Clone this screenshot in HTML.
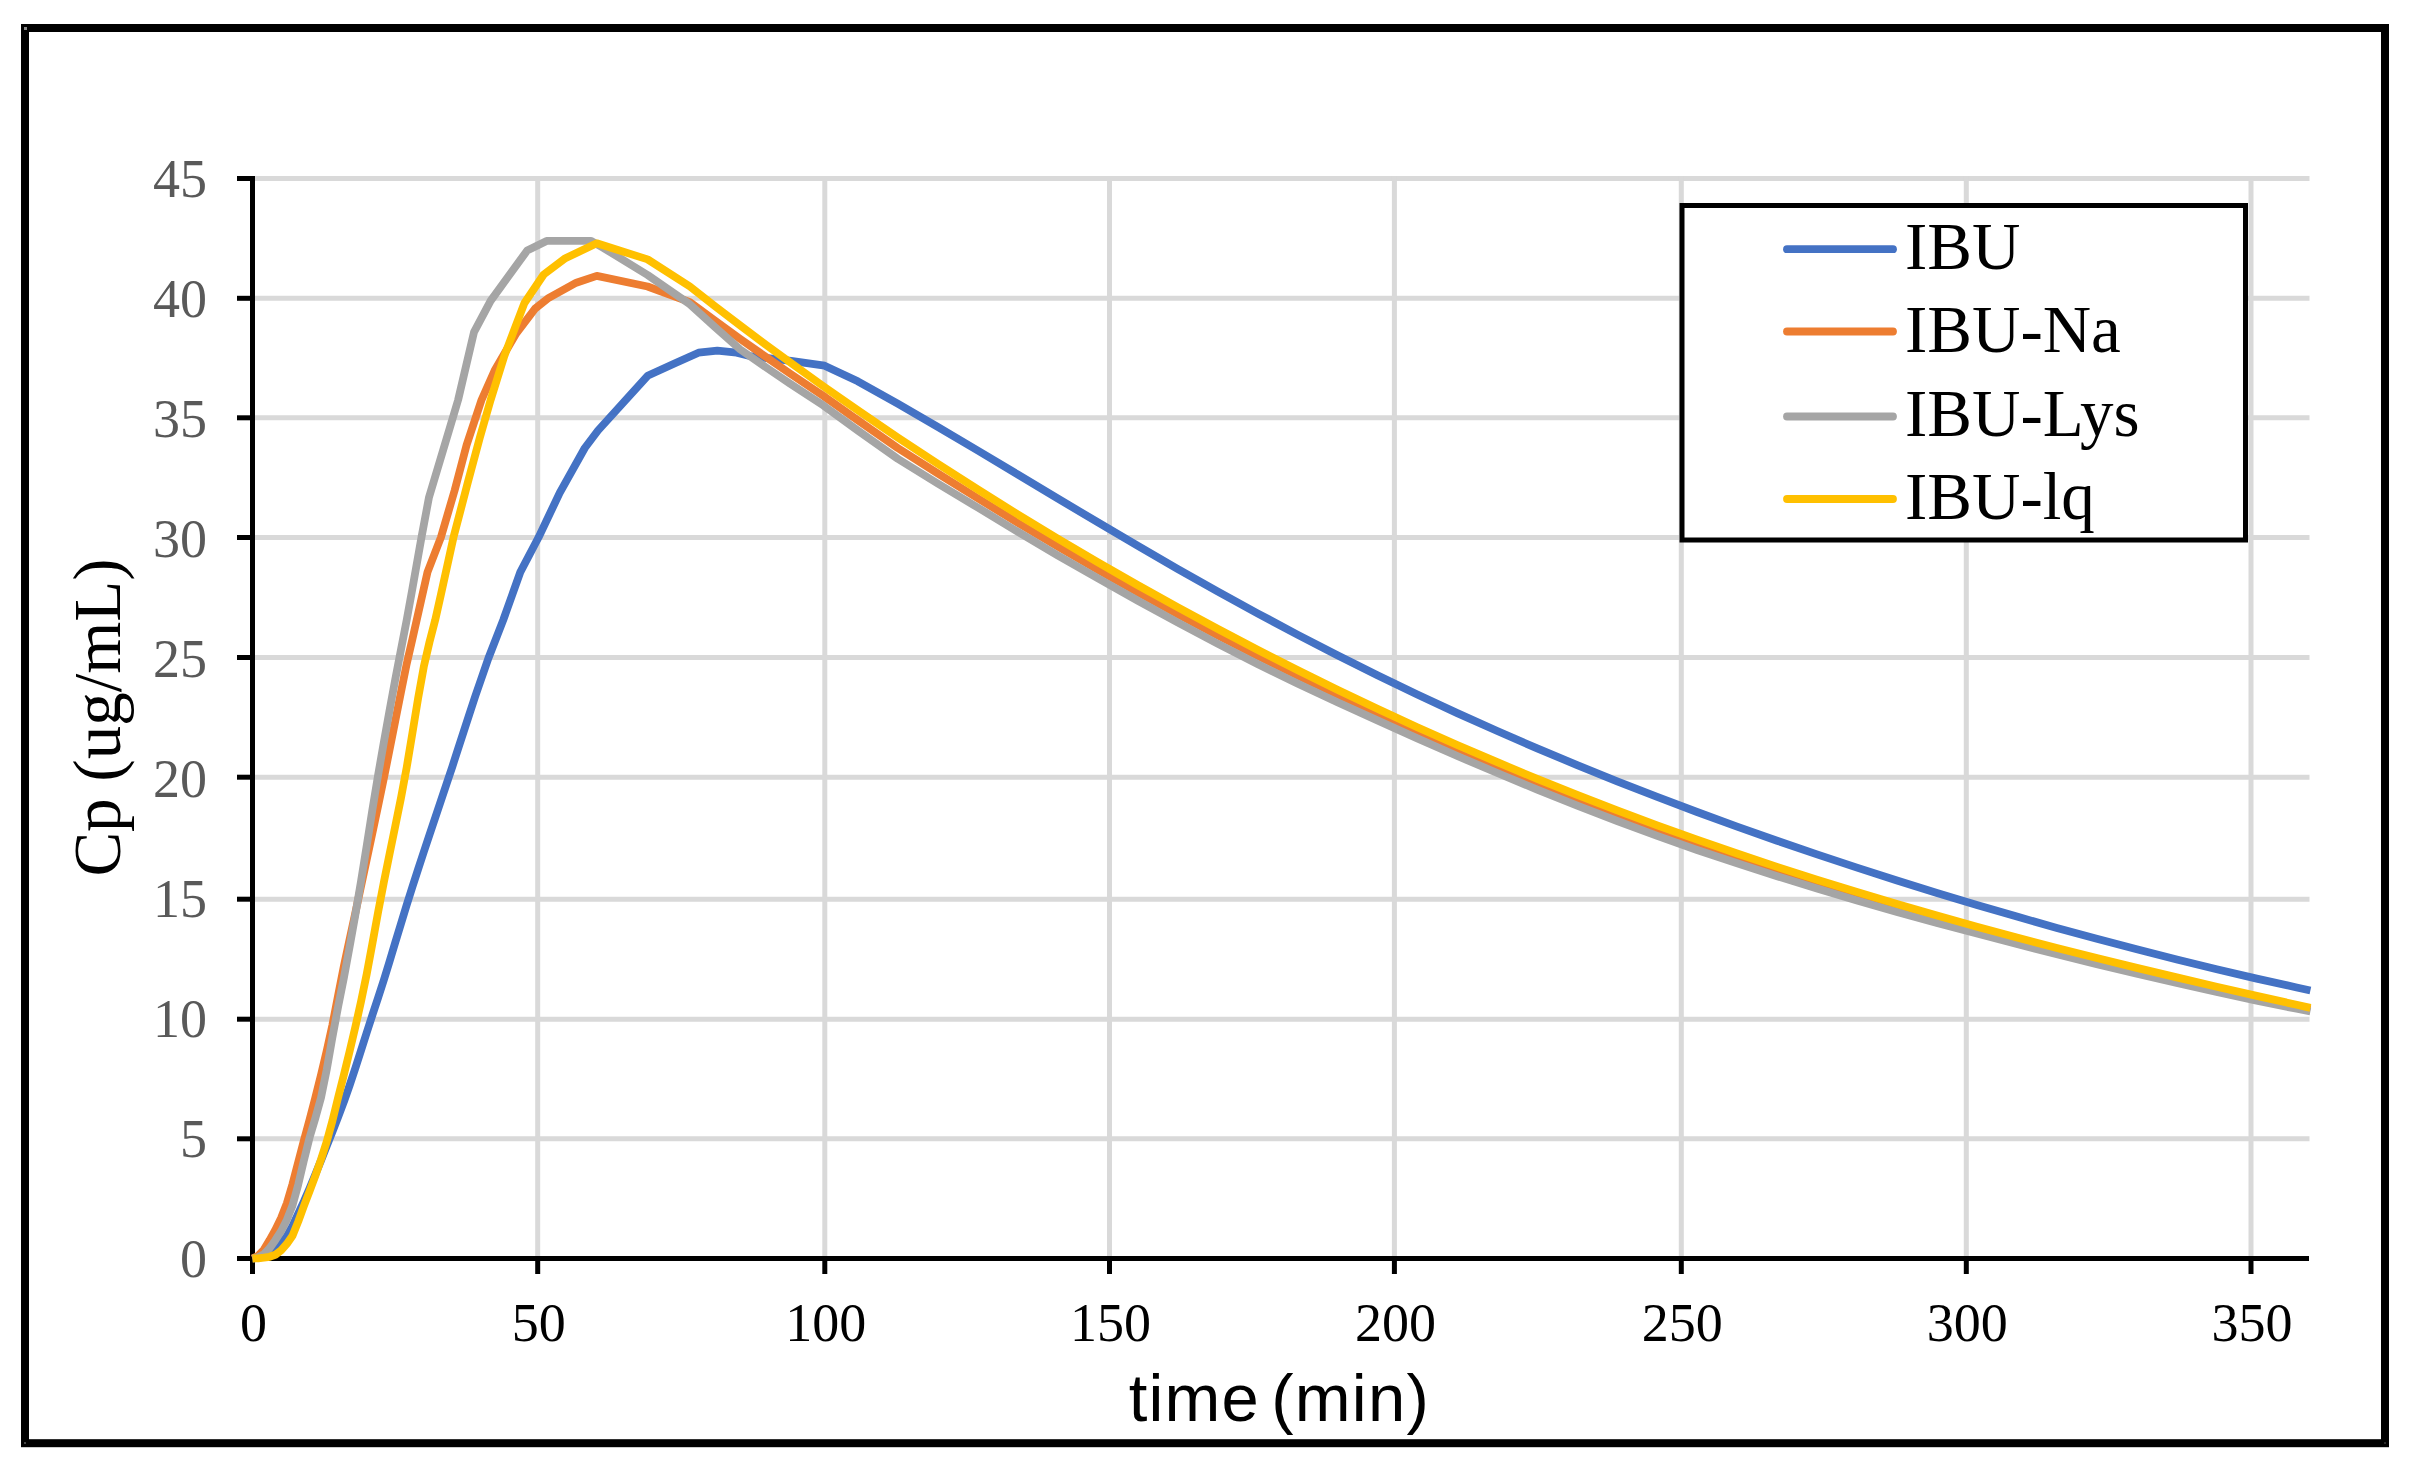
<!DOCTYPE html>
<html><head><meta charset="utf-8"><title>Cp vs time</title>
<style>html,body{margin:0;padding:0;background:#fff}svg{display:block}</style></head>
<body>
<svg width="2413" height="1467" viewBox="0 0 2413 1467">
<rect x="0" y="0" width="2413" height="1467" fill="#fff"/>
<rect x="25" y="28" width="2360" height="1415.2" fill="none" stroke="#000" stroke-width="8"/>
<rect x="24" y="27" width="3" height="3" fill="#8a8a8a"/>
<rect x="24" y="1442" width="2" height="2" fill="#444"/>
<rect x="2384" y="1442" width="2" height="2" fill="#2a2a2a"/>
<g stroke="#d9d9d9" stroke-width="5" fill="none">
<line x1="255" x2="2309.5" y1="1138.8" y2="1138.8"/>
<line x1="255" x2="2309.5" y1="1019.2" y2="1019.2"/>
<line x1="255" x2="2309.5" y1="899.2" y2="899.2"/>
<line x1="255" x2="2309.5" y1="777.2" y2="777.2"/>
<line x1="255" x2="2309.5" y1="657.5" y2="657.5"/>
<line x1="255" x2="2309.5" y1="537.5" y2="537.5"/>
<line x1="255" x2="2309.5" y1="417.8" y2="417.8"/>
<line x1="255" x2="2309.5" y1="298.3" y2="298.3"/>
<line x1="255" x2="2309.5" y1="178.5" y2="178.5"/>
<line x1="537.7" x2="537.7" y1="176" y2="1256"/>
<line x1="824.8" x2="824.8" y1="176" y2="1256"/>
<line x1="1109.5" x2="1109.5" y1="176" y2="1256"/>
<line x1="1394.4" x2="1394.4" y1="176" y2="1256"/>
<line x1="1681.3" x2="1681.3" y1="176" y2="1256"/>
<line x1="1966.3" x2="1966.3" y1="176" y2="1256"/>
<line x1="2251.0" x2="2251.0" y1="176" y2="1256"/>
</g>
<g stroke="#000" stroke-width="5" fill="none">
<line x1="252.5" x2="252.5" y1="176" y2="1274"/>
<line x1="237" x2="2309" y1="1258.5" y2="1258.5"/>
<line x1="237" x2="252.5" y1="1138.8" y2="1138.8"/>
<line x1="237" x2="252.5" y1="1019.2" y2="1019.2"/>
<line x1="237" x2="252.5" y1="899.2" y2="899.2"/>
<line x1="237" x2="252.5" y1="777.2" y2="777.2"/>
<line x1="237" x2="252.5" y1="657.5" y2="657.5"/>
<line x1="237" x2="252.5" y1="537.5" y2="537.5"/>
<line x1="237" x2="252.5" y1="417.8" y2="417.8"/>
<line x1="237" x2="252.5" y1="298.3" y2="298.3"/>
<line x1="237" x2="252.5" y1="178.5" y2="178.5"/>
<line x1="537.7" x2="537.7" y1="1258.5" y2="1274"/>
<line x1="824.8" x2="824.8" y1="1258.5" y2="1274"/>
<line x1="1109.5" x2="1109.5" y1="1258.5" y2="1274"/>
<line x1="1394.4" x2="1394.4" y1="1258.5" y2="1274"/>
<line x1="1681.3" x2="1681.3" y1="1258.5" y2="1274"/>
<line x1="1966.3" x2="1966.3" y1="1258.5" y2="1274"/>
<line x1="2251.0" x2="2251.0" y1="1258.5" y2="1274"/>
</g>
<g fill="none" stroke-width="7.8" stroke-linejoin="round" stroke-linecap="butt">
<path d="M252.5,1258.5 L258.2,1257.9 L263.9,1256.5 L269.6,1254.3 L275.3,1249.8 L281.1,1243.6 L286.8,1236.2 L292.5,1225.9 L298.2,1213.7 L303.9,1201.4 L309.6,1188.3 L315.3,1174.6 L321.0,1160.5 L326.7,1146.1 L332.4,1131.7 L338.1,1117.0 L343.9,1101.7 L349.6,1085.4 L355.3,1068.3 L361.0,1050.5 L366.7,1032.6 L372.4,1015.0 L378.1,997.7 L383.8,980.1 L389.5,961.7 L395.2,942.7 L401.0,923.6 L406.7,904.9 L412.4,886.9 L418.1,869.3 L423.8,851.9 L429.5,834.8 L435.2,817.8 L440.9,800.7 L446.6,783.7 L452.4,766.4 L458.1,748.8 L463.8,731.2 L469.5,713.7 L475.2,696.4 L488.3,658.5 L503.2,620.1 L520.3,572.1 L538.6,537.3 L559.7,492.9 L584.8,448.0 L598.0,430.5 L647.6,375.8 L675.0,363.3 L698.5,352.7 L717.3,350.6 L736.7,352.7 L749.8,356.1 L791.0,360.9 L824.6,365.7 L857.8,381.3 L897.7,403.6 L937.7,426.8 L977.7,450.5 L1017.6,474.4 L1057.6,498.4 L1097.6,522.2 L1137.5,545.7 L1177.5,568.8 L1217.5,591.3 L1257.5,613.3 L1297.4,634.6 L1337.4,655.2 L1377.4,675.2 L1417.3,694.5 L1457.3,713.1 L1497.3,731.0 L1537.2,748.4 L1577.2,765.1 L1617.2,781.3 L1657.2,796.9 L1697.1,812.0 L1737.1,826.6 L1777.1,840.7 L1817.0,854.4 L1857.0,867.6 L1897.0,880.5 L1937.0,892.9 L1976.9,904.9 L2016.9,916.6 L2056.9,927.9 L2096.8,938.8 L2136.8,949.3 L2176.8,959.5 L2216.7,969.2 L2256.7,978.6 L2296.7,987.5 L2310.4,990.5" stroke="#4472c4"/>
<path d="M252.5,1258.5 L258.2,1255.7 L263.9,1249.6 L269.6,1240.1 L275.3,1229.9 L281.1,1218.0 L286.8,1203.3 L292.5,1184.1 L298.2,1162.3 L303.9,1140.4 L309.6,1119.6 L315.3,1097.8 L321.0,1074.9 L326.7,1050.9 L332.4,1025.0 L338.1,995.4 L343.9,966.0 L349.6,939.2 L355.3,913.1 L361.0,886.4 L366.7,859.7 L372.4,833.0 L378.1,806.0 L383.8,778.5 L389.5,750.1 L395.2,721.3 L401.0,691.9 L406.7,663.8 L412.4,639.1 L427.5,572.1 L440.9,537.3 L454.6,490.5 L466.6,444.9 L481.5,400.0 L494.6,370.5 L516.3,333.3 L535.1,308.6 L548.8,297.8 L576.3,282.7 L596.8,275.9 L647.6,286.5 L689.9,302.1 L715.0,320.7 L740.1,338.9 L766.4,357.3 L789.8,373.4 L823.5,396.0 L857.8,420.3 L897.7,448.0 L937.7,473.4 L977.7,498.2 L1017.6,522.7 L1057.6,546.5 L1097.6,569.6 L1137.5,592.2 L1177.5,614.1 L1217.5,635.4 L1257.5,655.9 L1297.4,675.4 L1337.4,694.4 L1377.4,712.7 L1417.3,730.7 L1457.3,748.5 L1497.3,765.6 L1537.2,782.3 L1577.2,798.4 L1617.2,813.9 L1657.2,828.9 L1697.1,843.2 L1737.1,856.9 L1777.1,870.0 L1817.0,882.7 L1857.0,895.0 L1897.0,906.7 L1937.0,918.1 L1976.9,929.1 L2016.9,939.8 L2056.9,950.2 L2096.8,960.2 L2136.8,970.0 L2176.8,979.5 L2216.7,988.7 L2256.7,997.8 L2296.7,1006.4 L2310.4,1009.3" stroke="#ed7d31"/>
<path d="M252.5,1258.5 L258.2,1257.2 L263.9,1254.2 L269.6,1248.2 L275.3,1240.2 L281.1,1231.2 L286.8,1219.9 L292.5,1205.5 L298.2,1184.7 L303.9,1160.4 L309.6,1137.5 L315.3,1118.3 L321.0,1097.7 L326.7,1069.7 L332.4,1037.3 L338.1,1006.8 L343.9,977.7 L349.6,946.9 L355.3,915.0 L361.0,881.5 L366.7,845.8 L372.4,809.7 L378.1,775.2 L383.8,742.5 L389.5,710.8 L395.2,679.8 L401.0,649.5 L406.7,620.1 L412.4,588.6 L421.5,537.3 L428.9,497.7 L450.1,426.9 L458.1,400.0 L474.0,332.1 L490.6,300.9 L527.2,250.5 L546.6,240.9 L591.1,240.9 L603.7,248.1 L647.6,275.0 L689.9,304.3 L715.0,327.1 L740.1,349.4 L766.4,367.6 L789.8,383.4 L823.5,405.6 L857.8,430.5 L897.7,458.7 L937.7,483.5 L977.7,507.5 L1017.6,531.7 L1057.6,555.3 L1097.6,578.1 L1137.5,600.5 L1177.5,622.4 L1217.5,643.6 L1257.5,664.0 L1297.4,683.4 L1337.4,702.2 L1377.4,720.4 L1417.3,738.4 L1457.3,756.0 L1497.3,773.0 L1537.2,789.6 L1577.2,805.6 L1617.2,821.0 L1657.2,835.9 L1697.1,850.0 L1737.1,863.3 L1777.1,876.2 L1817.0,888.5 L1857.0,900.4 L1897.0,911.9 L1937.0,922.9 L1976.9,933.6 L2016.9,944.1 L2056.9,954.3 L2096.8,964.1 L2136.8,973.7 L2176.8,983.0 L2216.7,992.0 L2256.7,1000.8 L2296.7,1008.8 L2310.4,1011.5" stroke="#a5a5a5"/>
<path d="M252.5,1258.5 L258.2,1258.3 L263.9,1257.7 L269.6,1256.8 L275.3,1254.8 L281.1,1250.3 L286.8,1243.9 L292.5,1235.7 L298.2,1221.6 L303.9,1206.0 L309.6,1191.1 L315.3,1175.8 L321.0,1159.5 L326.7,1141.7 L332.4,1120.9 L338.1,1097.6 L343.9,1074.7 L349.6,1051.4 L355.3,1027.2 L361.0,1001.7 L366.7,974.1 L372.4,943.5 L378.1,912.1 L383.8,882.5 L389.5,854.3 L395.2,826.5 L401.0,797.9 L406.7,767.4 L412.4,733.2 L418.1,698.3 L423.8,666.7 L429.5,642.0 L435.2,620.1 L440.9,594.7 L453.5,537.3 L467.8,482.6 L479.8,437.7 L490.6,400.0 L504.3,356.1 L524.3,303.3 L543.7,274.5 L565.4,258.2 L596.8,243.3 L647.6,259.4 L689.9,286.5 L715.0,306.2 L740.1,325.4 L766.4,345.1 L789.8,362.2 L823.5,386.4 L857.8,410.3 L897.7,437.4 L937.7,463.8 L977.7,489.4 L1017.6,514.3 L1057.6,538.5 L1097.6,562.1 L1137.5,585.0 L1177.5,607.2 L1217.5,628.8 L1257.5,649.7 L1297.4,670.0 L1337.4,689.7 L1377.4,708.8 L1417.3,727.2 L1457.3,745.0 L1497.3,762.2 L1537.2,778.9 L1577.2,794.9 L1617.2,810.4 L1657.2,825.3 L1697.1,839.7 L1737.1,853.5 L1777.1,866.9 L1817.0,879.7 L1857.0,892.1 L1897.0,904.1 L1937.0,915.6 L1976.9,926.7 L2016.9,937.5 L2056.9,947.9 L2096.8,958.0 L2136.8,967.9 L2176.8,977.4 L2216.7,986.8 L2256.7,995.9 L2296.7,1004.8 L2310.4,1007.9" stroke="#ffc000"/>
</g>
<g font-family="'Liberation Serif', serif" font-size="54" fill="#595959" text-anchor="end">
<text x="207" y="1277.0">0</text>
<text x="207" y="1157.0">5</text>
<text x="207" y="1037.0">10</text>
<text x="207" y="917.0">15</text>
<text x="207" y="797.0">20</text>
<text x="207" y="677.0">25</text>
<text x="207" y="557.0">30</text>
<text x="207" y="437.0">35</text>
<text x="207" y="317.0">40</text>
<text x="207" y="197.0">45</text>
</g>
<g font-family="'Liberation Serif', serif" font-size="54" fill="#000" text-anchor="middle">
<text x="253.5" y="1341">0</text>
<text x="538.7" y="1341">50</text>
<text x="825.8" y="1341">100</text>
<text x="1110.5" y="1341">150</text>
<text x="1395.4" y="1341">200</text>
<text x="1682.3" y="1341">250</text>
<text x="1967.3" y="1341">300</text>
<text x="2252.0" y="1341">350</text>
</g>
<text transform="translate(119.8,717.5) rotate(-90)" font-family="'Liberation Serif', serif" font-size="67" fill="#000" text-anchor="middle">Cp (ug/mL)</text>
<text x="1279.3" y="1420.7" font-family="'Liberation Sans', sans-serif" font-size="67" fill="#000" text-anchor="middle" letter-spacing="1.2" word-spacing="-8.5">time (min)</text>
<rect x="1682" y="205.5" width="563.5" height="334.5" fill="#fff" stroke="#000" stroke-width="5"/>
<g stroke-width="7.8" stroke-linecap="round" fill="none">
<line x1="1787" x2="1893" y1="249.2" y2="249.2" stroke="#4472c4"/>
<line x1="1787" x2="1893" y1="331.5" y2="331.5" stroke="#ed7d31"/>
<line x1="1787" x2="1893" y1="416.5" y2="416.5" stroke="#a5a5a5"/>
<line x1="1787" x2="1893" y1="499.0" y2="499.0" stroke="#ffc000"/>
</g>
<g font-family="'Liberation Serif', serif" font-size="67" fill="#000">
<text x="1905" y="269.4">IBU</text>
<text x="1905" y="351.7">IBU-Na</text>
<text x="1905" y="436.4">IBU-Lys</text>
<text x="1905" y="519.3">IBU-lq</text>
</g>
</svg>
</body></html>
